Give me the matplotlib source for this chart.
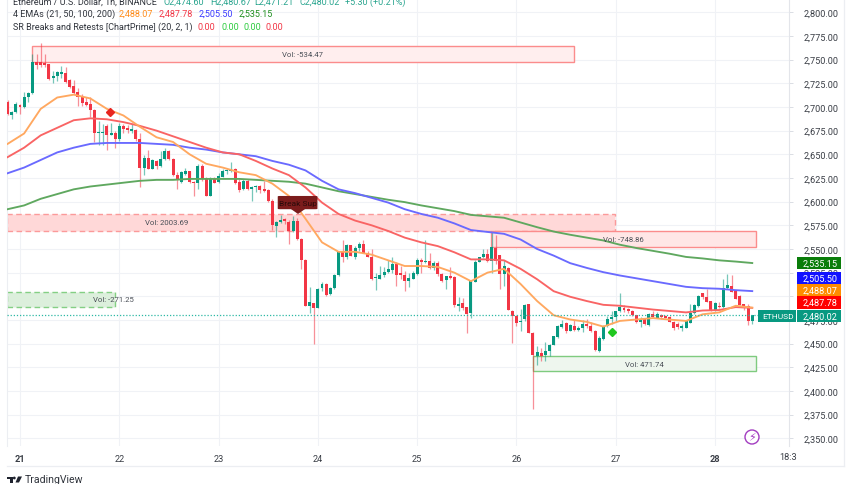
import numpy as np
import matplotlib
matplotlib.use('Agg')
import matplotlib.pyplot as plt
from matplotlib.patches import Rectangle, Circle, Polygon, FancyBboxPatch

plt.rcParams['font.family'] = ['Roboto', 'DejaVu Sans']

# hourly candles, first one is 3h before the "21" tick
opens = [2705, 2692, 2695, 2702, 2700, 2711, 2715, 2748, 2747, 2746, 2745, 2731, 2733, 2735, 2736, 2728,
         2722, 2716, 2711, 2705, 2703, 2697, 2672, 2672, 2680, 2670, 2673, 2666, 2680, 2678, 2675, 2676,
         2666, 2636, 2646, 2635, 2643, 2638, 2645, 2654, 2645, 2628, 2621, 2629, 2632, 2621, 2620, 2638,
         2624, 2606, 2624, 2621, 2626, 2632, 2632, 2635, 2621, 2613, 2622, 2613, 2615, 2616, 2613, 2612,
         2601, 2574, 2578, 2581, 2579, 2569, 2580, 2561, 2538, 2490, 2493, 2488, 2509, 2513, 2502, 2509,
         2522, 2548, 2542, 2554, 2542, 2551, 2555, 2546, 2541, 2519, 2518, 2522, 2526, 2528, 2534, 2524,
         2523, 2516, 2518, 2524, 2538, 2536, 2537, 2530, 2535, 2524, 2517, 2521, 2520, 2490, 2493, 2489,
         2482, 2515, 2536, 2541, 2545, 2537, 2551, 2544, 2524, 2530, 2484, 2479, 2473, 2476, 2492, 2461,
         2437, 2440, 2438, 2442, 2449, 2457, 2468, 2472, 2463, 2469, 2464, 2467, 2471, 2469, 2463, 2442,
         2455, 2469, 2476, 2478, 2484, 2487, 2487, 2485, 2480, 2473, 2476, 2470, 2481, 2477, 2480, 2479,
         2478, 2473, 2471, 2466, 2467, 2472, 2482, 2490, 2503, 2499, 2495, 2486, 2490, 2489, 2509, 2511,
         2506, 2500, 2492, 2490, 2474]
highs = [2707, 2696, 2705, 2703, 2716, 2716, 2756, 2756, 2768, 2756, 2745, 2738, 2738, 2743, 2742, 2730,
         2728, 2720, 2714, 2711, 2711, 2698, 2685, 2682, 2682, 2683, 2675, 2683, 2682, 2681, 2682, 2677,
         2672, 2649, 2655, 2645, 2644, 2654, 2657, 2655, 2646, 2631, 2632, 2636, 2632, 2622, 2640, 2640,
         2626, 2626, 2626, 2630, 2635, 2635, 2642, 2636, 2624, 2624, 2624, 2617, 2618, 2618, 2622, 2613,
         2603, 2580, 2586, 2583, 2581, 2585, 2583, 2562, 2539, 2510, 2493, 2509, 2515, 2514, 2510, 2524,
         2548, 2559, 2555, 2554, 2553, 2557, 2559, 2548, 2550, 2525, 2532, 2531, 2538, 2542, 2536, 2532,
         2527, 2525, 2527, 2540, 2540, 2559, 2546, 2537, 2537, 2525, 2521, 2531, 2521, 2499, 2498, 2489,
         2517, 2538, 2542, 2550, 2550, 2568, 2565, 2544, 2538, 2531, 2486, 2480, 2487, 2492, 2492, 2462,
         2448, 2445, 2452, 2450, 2458, 2470, 2475, 2473, 2471, 2475, 2469, 2475, 2476, 2473, 2464, 2458,
         2470, 2479, 2485, 2485, 2504, 2491, 2488, 2486, 2480, 2478, 2477, 2482, 2484, 2483, 2481, 2480,
         2479, 2474, 2473, 2471, 2475, 2492, 2492, 2501, 2504, 2508, 2495, 2494, 2494, 2518, 2524, 2522,
         2507, 2501, 2492, 2492, 2480]
lows = [2692, 2687, 2694, 2693, 2699, 2705, 2714, 2740, 2742, 2742, 2729, 2725, 2727, 2731, 2725, 2720,
        2714, 2701, 2701, 2701, 2689, 2663, 2660, 2660, 2655, 2670, 2657, 2664, 2672, 2672, 2673, 2664,
        2615, 2628, 2635, 2634, 2635, 2637, 2644, 2644, 2627, 2613, 2620, 2628, 2620, 2606, 2613, 2622,
        2606, 2606, 2620, 2620, 2626, 2629, 2631, 2619, 2610, 2612, 2612, 2601, 2610, 2609, 2610, 2600,
        2570, 2563, 2577, 2576, 2555, 2568, 2560, 2529, 2490, 2482, 2450, 2488, 2506, 2500, 2501, 2508,
        2521, 2536, 2539, 2543, 2539, 2548, 2546, 2541, 2517, 2507, 2518, 2520, 2525, 2525, 2511, 2518,
        2506, 2510, 2518, 2522, 2525, 2535, 2529, 2528, 2521, 2515, 2508, 2518, 2489, 2485, 2486, 2461,
        2477, 2515, 2536, 2540, 2536, 2525, 2534, 2508, 2511, 2486, 2451, 2469, 2463, 2474, 2461, 2381,
        2427, 2432, 2432, 2437, 2449, 2456, 2467, 2461, 2463, 2463, 2463, 2462, 2466, 2462, 2442, 2441,
        2454, 2468, 2471, 2474, 2483, 2483, 2482, 2479, 2472, 2468, 2470, 2469, 2478, 2477, 2476, 2477,
        2473, 2464, 2465, 2463, 2467, 2472, 2481, 2489, 2497, 2494, 2485, 2485, 2488, 2488, 2508, 2505,
        2497, 2491, 2486, 2470, 2471]
closes = [2693, 2695, 2703, 2700, 2711, 2715, 2747, 2744, 2744, 2744, 2730, 2733, 2737, 2737, 2726, 2721,
          2715, 2711, 2704, 2702, 2697, 2672, 2673, 2673, 2670, 2673, 2666, 2680, 2677, 2676, 2677, 2666,
          2636, 2646, 2635, 2644, 2638, 2645, 2653, 2645, 2628, 2624, 2631, 2632, 2621, 2620, 2638, 2624,
          2606, 2624, 2620, 2627, 2632, 2633, 2635, 2620, 2612, 2622, 2613, 2615, 2616, 2612, 2611, 2601,
          2575, 2578, 2581, 2580, 2569, 2580, 2561, 2538, 2490, 2494, 2488, 2508, 2513, 2501, 2509, 2522,
          2547, 2541, 2554, 2543, 2551, 2555, 2546, 2541, 2518, 2519, 2523, 2526, 2529, 2534, 2523, 2523,
          2516, 2519, 2525, 2538, 2536, 2537, 2530, 2535, 2524, 2516, 2521, 2519, 2491, 2492, 2488, 2481,
          2516, 2536, 2541, 2545, 2537, 2552, 2537, 2524, 2532, 2486, 2479, 2472, 2474, 2491, 2461, 2438,
          2441, 2437, 2442, 2449, 2458, 2469, 2471, 2463, 2470, 2464, 2467, 2471, 2469, 2463, 2443, 2456,
          2469, 2476, 2478, 2484, 2489, 2486, 2484, 2480, 2473, 2475, 2471, 2481, 2478, 2481, 2478, 2477,
          2473, 2466, 2468, 2469, 2474, 2482, 2491, 2500, 2499, 2494, 2486, 2493, 2489, 2509, 2512, 2505,
          2497, 2491, 2488, 2474, 2480]

# EMAs read every 4 candles
ema21 = [2661, 2672, 2698, 2710, 2713, 2709, 2698, 2691, 2679, 2668, 2663, 2650, 2640, 2636, 2631, 2628,
         2619, 2606, 2582, 2557, 2547, 2547, 2544, 2538, 2532, 2532, 2531, 2525, 2516, 2525, 2529, 2513,
         2495, 2480, 2475.5, 2473, 2468, 2474, 2475.5, 2477, 2475.4, 2474, 2481, 2483, 2490, 2488.07]
ema50 = [2647, 2657, 2670, 2678, 2686, 2688, 2687, 2684, 2680, 2675, 2669, 2663, 2657, 2652, 2650, 2643,
         2635, 2628, 2615, 2599, 2587, 2580, 2575, 2569, 2562, 2557, 2553, 2546.5, 2539, 2539, 2538, 2529,
         2518, 2505.4, 2499.5, 2495, 2491, 2490, 2488, 2486, 2484.5, 2483, 2485, 2485.5, 2488.6, 2487.78]
ema100 = [2630, 2636, 2644, 2652, 2657, 2661, 2662, 2662, 2662, 2661, 2660, 2657, 2655, 2652, 2650, 2648,
          2643, 2639, 2633, 2622, 2613, 2609, 2604, 2599, 2592, 2587, 2583, 2577, 2570, 2568, 2566, 2560,
          2550, 2543, 2535, 2530, 2525.5, 2522, 2519, 2516, 2513, 2510, 2508.6, 2508, 2506.5, 2505.5]
ema200 = [2592, 2596, 2603, 2608, 2613, 2616, 2618, 2620, 2622, 2623, 2623, 2624, 2624, 2624, 2624, 2623,
          2622, 2621, 2619, 2615, 2611, 2608, 2605, 2602, 2599.5, 2596, 2593, 2590, 2586, 2584.5, 2583, 2578,
          2573, 2568.4, 2565, 2562, 2559, 2554.5, 2551, 2548, 2545, 2541.6, 2540, 2538, 2536.7, 2535.15]

price_ticks = list(range(2350, 2825, 25))
day_labels = ['21', '22', '23', '24', '25', '26', '27', '28']
last_price = 2480.02

green = '#089981'
red = '#f23645'

fig = plt.figure(figsize=(8.52, 4.85), dpi=100)
W, H = 852, 485
# plot area in pixels: x 7..789, y 0..447
ax = fig.add_axes([7 / W, 1 - 447 / H, 782 / W, 447 / H])
ax.set_xlim((7 - 20) / 4.137, (789 - 20) / 4.137)
ax.set_ylim(2800 - (447 - 13.3) * 1.0563, 2800 + 13.3 * 1.0563)

# candles
hours = np.arange(len(opens)) - 3
o = np.array(opens, dtype=float)
c = np.array(closes, dtype=float)
colors = [green if b >= a else red for a, b in zip(opens, closes)]
ax.vlines(hours, lows, highs, colors=colors, lw=0.9, alpha=0.55, zorder=3)
bottoms = np.minimum(o, c)
heights = np.maximum(np.abs(c - o), 1.2)
ax.bar(hours, heights, bottom=bottoms, width=0.72, color=colors, lw=0, zorder=3)

# sr boxes
def sr_box(x0, x1, y0, y1, edge, fill, ls, label, lx):
    ax.add_patch(Rectangle((x0, y0), x1 - x0, y1 - y0, facecolor=fill, edgecolor=edge, lw=1.0, ls=ls, zorder=2))
    ax.text(lx, (y0 + y1) / 2, label, fontsize=5.6, color='#4a4f57', ha='center', va='center', zorder=6)

sr_box(2.9, 133.9, 2748, 2764, '#fb8c8c', '#ffeeee', '-', 'Vol: -534.47', 68.4)
sr_box(-3.2, 143.8, 2569, 2587, '#fb9a9a', '#ffd8d8', (0, (4, 2.5)), 'Vol: 2003.69', 35.5)
sr_box(113.9, 177.9, 2552, 2569.4, '#fb8c8c', '#ffe6e6', '-', 'Vol: -748.86', 145.8)
sr_box(-3.2, 23, 2488.5, 2505, '#84cf84', '#dcefdc', (0, (4, 2.5)), 'Vol: -271.25', 22.5)
sr_box(124, 177.9, 2421, 2437, '#7fcb7f', '#eef6ee', '-', 'Vol: 471.74', 151)

# emas
ema_hours = np.arange(len(ema21)) * 4 - 3
ax.plot(ema_hours, ema200, color='#5fa85f', lw=1.35, zorder=4)
ax.plot(ema_hours, ema100, color='#6a6aff', lw=1.35, zorder=4)
ax.plot(ema_hours, ema50, color='#f96464', lw=1.35, zorder=4)
ax.plot(ema_hours, ema21, color='#ffa860', lw=1.35, zorder=4)

ax.axhline(last_price, color='#2db8a4', lw=0.9, ls=(0, (1, 1.5)), zorder=4)

# signal markers
ax.plot([21.8], [2695], marker='D', ms=3.6, color='#e8251f', zorder=5)
ax.plot([143], [2462], marker='D', ms=3.6, color='#1fc71f', zorder=5)

# break label
ax.add_patch(FancyBboxPatch((62.3, 2592), 9.6, 14, boxstyle='round,pad=0,rounding_size=0.5', mutation_aspect=1,
                            facecolor='#7b1c1c', edgecolor='none', zorder=6))
ax.add_patch(Polygon([[65.4, 2592.5], [69, 2592.5], [67.2, 2587]], closed=True, facecolor='#7b1c1c', edgecolor='none', zorder=6))
ax.text(67.1, 2599, 'Break Sup', fontsize=6, color='#2a0a0a', ha='center', va='center', zorder=7)

# axes and grid
ax.yaxis.tick_right()
ax.set_yticks(price_ticks)
ax.set_yticklabels([f'{p:,.2f}' for p in price_ticks])
ax.set_xticks(np.arange(len(day_labels)) * 24)
ax.set_xticklabels(day_labels)
ax.grid(color='#f0f2f6', lw=0.8, zorder=0)
ax.set_axisbelow(True)
ax.tick_params(axis='y', length=3, width=0.6, color='#d5d8df', pad=7.5, labelsize=6.6, labelcolor='#3a3e46')
ax.tick_params(axis='x', length=0, pad=6, labelsize=6.6, labelcolor='#3a3e46')
for lab in (ax.get_xticklabels()[0], ax.get_xticklabels()[-1]):
    lab.set_fontweight('bold')
for side in ('top', 'bottom'):
    ax.spines[side].set_visible(False)
ax.spines['left'].set_color('#eceef2')
ax.spines['right'].set_color('#e3e5ea')

# overlay in pixel coordinates for the tv chrome
ov = fig.add_axes([0, 0, 1, 1], zorder=10)
ov.set_xlim(0, W)
ov.set_ylim(H, 0)
ov.axis('off')
ov.patch.set_alpha(0)

def txt(x, y, s, color='#30343c', size=6.45, **kw):
    ov.text(x, y, s, color=color, fontsize=size, va='center', ha=kw.pop('ha', 'left'), **kw)

txt(13, 2, 'Ethereum / U.S. Dollar, 1h, BINANCE')
up = '#2aa58f'
txt(163, 2, 'O2,474.60', up)
txt(210, 2, 'H2,480.67', up)
txt(254, 2, 'L2,471.21', up)
txt(299, 2, 'C2,480.02', up)
txt(345, 2, '+5.30 (+0.21%)', up)
txt(13, 14.5, '4 EMAs (21, 50, 100, 200)')
txt(119, 14.5, '2,488.07', '#ff8c1a')
txt(159, 14.5, '2,487.78', '#f23645')
txt(199, 14.5, '2,505.50', '#3a3aff')
txt(239, 14.5, '2,535.15', '#1f8f1f')
txt(13, 27, 'SR Breaks and Retests [ChartPrime] (20, 2, 1)')
txt(198, 27, '0.00', '#f23645')
txt(221, 27, '0.00', '#2ecc40')
txt(243, 27, '0.00', '#2ecc40')
txt(266, 27, '0.00', '#f23645')

# price tags on the right scale
tag_values = ['2,535.15', '2,505.50', '2,488.07', '2,487.78', '2,480.02']
tag_colors = ['#0a7d0a', '#1212ff', '#ff8c00', '#ff0000', green]
tag_y = [264, 278.7, 291, 303.3, 316.7]
for val, col, y in zip(tag_values, tag_colors, tag_y):
    ov.add_patch(Rectangle((797, y - 6.2), 44, 12.4, facecolor=col, edgecolor='none'))
    txt(803, y, val, 'white', size=6.6)
ov.add_patch(Rectangle((758, 310.5), 38, 12.4, facecolor=green, edgecolor='none'))
txt(762, 316.7, 'ETHUSD', 'white', size=6.0)

# lightning badge
ov.add_patch(Circle((752, 438), 7, facecolor='white', edgecolor='#a23cc0', lw=1.0))
ov.text(752, 438, '\u26a1', color='#a23cc0', fontsize=8, ha='center', va='center', family='DejaVu Sans')

# time scale end
txt(779, 458, '18:3', '#3a3e46', size=6.6)
ov.plot([7, 844], [467, 467], color='#eceef2', lw=0.9)
ov.plot([844, 844], [0, 467], color='#eceef2', lw=0.9)

# tradingview logo
ov.add_patch(Rectangle((7, 477.5), 5.5, 2, color='#1e222d', lw=0))
ov.add_patch(Rectangle((9.5, 477.5), 3, 6, color='#1e222d', lw=0))
ov.add_patch(Circle((14.3, 479), 1.4, color='#1e222d', lw=0))
ov.add_patch(Polygon([[18, 477.5], [22, 477.5], [19, 483.5], [15.5, 483.5]], closed=True, color='#1e222d', lw=0))
txt(25, 480.5, 'TradingView', '#30343c', size=7.6)

fig.savefig('out.png', dpi=100)
